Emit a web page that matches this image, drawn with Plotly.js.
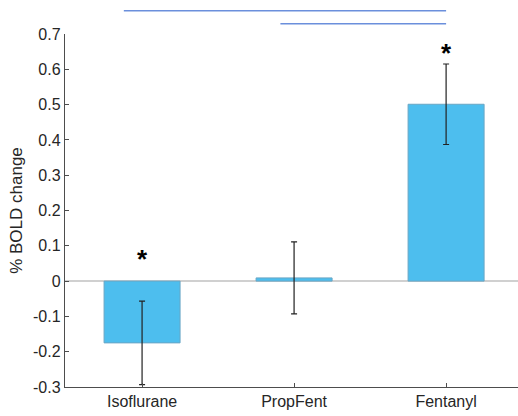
<!DOCTYPE html>
<html><head><meta charset="utf-8">
<script src="https://cdn.plot.ly/plotly-3.0.1.min.js"></script>
<style>html,body{margin:0;padding:0;background:#fff}#chart{width:518px;height:416px}</style>
</head><body><div id="chart"></div>
<script>
const categories = ['Isoflurane', 'PropFent', 'Fentanyl'];
const values = [-0.175, 0.009, 0.501];
const errors = [0.118, 0.102, 0.114];
const starCats = ['Isoflurane', 'Fentanyl'];
const starY = [0.055, 0.64];
const sigFrom = [-0.12, 0.91];
const sigTo = [2.0, 2.0];
const sigY = [0.766, 0.729];
const yTickVals = [-0.3, -0.2, -0.1, 0, 0.1, 0.2, 0.3, 0.4, 0.5, 0.6, 0.7];
const yTickText = ['-0.3', '-0.2', '-0.1', '0', '0.1', '0.2', '0.3', '0.4', '0.5', '0.6', '0.7'];

const yRange = [-0.3, 0.7];
const toPaper = v => (v - yRange[0]) / (yRange[1] - yRange[0]);

const traces = [
  {
    type: 'bar', x: categories, y: values, width: 0.5,
    marker: {color: '#4DBEEE', line: {color: '#6aa6c4', width: 1}},
    error_y: {type: 'data', array: errors, visible: true, color: '#222', thickness: 1.2, width: 3},
    hoverinfo: 'none'
  },
  {
    type: 'scatter', mode: 'text', x: starCats, y: starY, text: starCats.map(() => '<b>*</b>'),
    textfont: {family: 'Liberation Sans, Arial, sans-serif', size: 26, color: '#000'},
    cliponaxis: false, hoverinfo: 'none'
  }
];

const shapes = sigFrom.map((f, i) => ({
  type: 'line', xref: 'x', yref: 'paper', x0: f, x1: sigTo[i], y0: toPaper(sigY[i]), y1: toPaper(sigY[i]),
  line: {color: '#6b8fdc', width: 1.5}
}));

const layout = {
  width: 518, height: 416,
  margin: {l: 65, r: 0, t: 34, b: 29},
  paper_bgcolor: '#fff', plot_bgcolor: '#fff',
  showlegend: false,
  font: {family: 'Liberation Sans, Arial, sans-serif', color: '#262626'},
  xaxis: {
    range: [-0.507, 2.473], showgrid: false, zeroline: false,
    showline: true, linecolor: '#4d4d4d', linewidth: 1.2,
    ticks: 'inside', ticklen: 4, tickcolor: '#4d4d4d',
    tickfont: {size: 16, color: '#262626'}, fixedrange: true
  },
  yaxis: {
    range: yRange, showgrid: false,
    zeroline: true, zerolinecolor: '#d0d0d0', zerolinewidth: 1.5,
    showline: true, linecolor: '#4d4d4d', linewidth: 1.2,
    ticks: 'inside', ticklen: 4, tickcolor: '#4d4d4d',
    tickmode: 'array', tickvals: yTickVals, ticktext: yTickText,
    tickfont: {size: 16, color: '#262626'},
    title: {text: '% BOLD change', font: {size: 17, color: '#262626'}, standoff: 6},
    fixedrange: true
  },
  shapes: shapes
};

Plotly.newPlot('chart', traces, layout, {displayModeBar: false, staticPlot: true});
</script></body></html>
